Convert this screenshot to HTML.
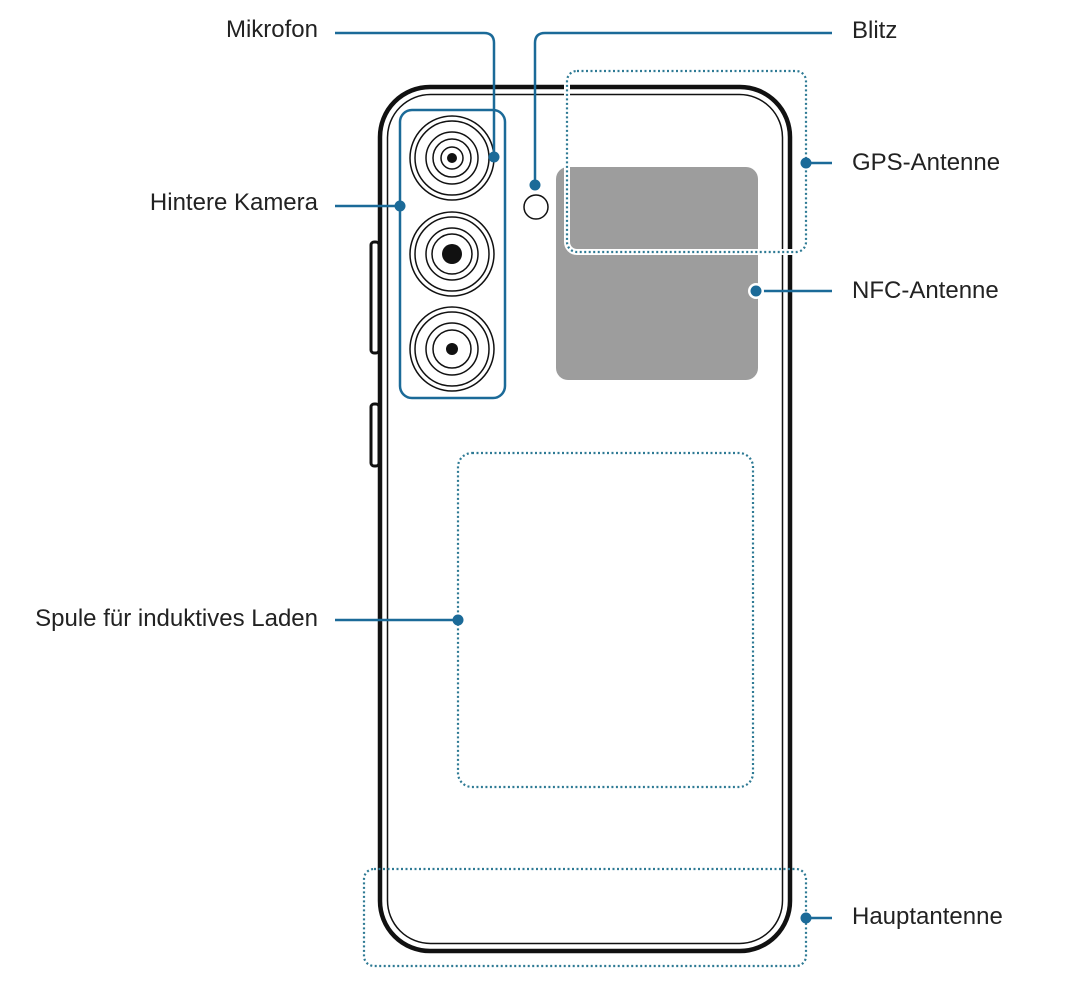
<!DOCTYPE html>
<html><head><meta charset="utf-8"><style>
body{margin:0;background:#fff;}
svg{display:block}
text{font-family:"Liberation Sans",sans-serif;font-size:24px;fill:#222;}
</style></head><body>
<svg width="1072" height="999" viewBox="0 0 1072 999" xmlns="http://www.w3.org/2000/svg">
<!-- side buttons -->
<rect x="371" y="242" width="8" height="111" rx="3" fill="none" stroke="#111" stroke-width="3"/>
<rect x="371" y="404" width="8" height="62" rx="3" fill="none" stroke="#111" stroke-width="3"/>
<!-- phone body -->
<rect x="380" y="87" width="410" height="864" rx="50" fill="#fff" stroke="#111" stroke-width="4.5"/>
<rect x="387.5" y="94.5" width="395" height="849" rx="43" fill="none" stroke="#111" stroke-width="1.5"/>
<!-- gray NFC -->
<rect x="556" y="167" width="202" height="213" rx="12" fill="#9d9d9d"/>
<!-- GPS dotted -->
<rect x="567" y="71" width="239" height="181" rx="10" fill="none" stroke="#fff" stroke-width="6"/>
<rect x="567" y="71" width="239" height="181" rx="10" fill="none" stroke="#2e7a94" stroke-width="2.2" stroke-dasharray="2 2.5"/>
<!-- coil -->
<rect x="458" y="453" width="295" height="334" rx="14" fill="none" stroke="#2e7a94" stroke-width="2.2" stroke-dasharray="2 2.5"/>
<!-- main antenna -->
<rect x="364" y="869" width="442" height="97" rx="10" fill="none" stroke="#2e7a94" stroke-width="2.2" stroke-dasharray="2 2.5"/>
<!-- camera box -->
<rect x="400" y="110" width="105" height="288" rx="12" fill="#fff" stroke="#1b6a98" stroke-width="2.5"/>
<g fill="none" stroke="#111" stroke-width="1.5">
<circle cx="452" cy="158" r="42"/><circle cx="452" cy="158" r="37"/><circle cx="452" cy="158" r="26"/><circle cx="452" cy="158" r="19"/><circle cx="452" cy="158" r="11"/>
<circle cx="452" cy="254" r="42"/><circle cx="452" cy="254" r="37"/><circle cx="452" cy="254" r="26"/><circle cx="452" cy="254" r="20"/>
<circle cx="452" cy="349" r="42"/><circle cx="452" cy="349" r="37"/><circle cx="452" cy="349" r="26"/><circle cx="452" cy="349" r="19"/>
<circle cx="536" cy="207" r="12"/>
</g>
<circle cx="452" cy="158" r="5" fill="#111"/>
<circle cx="452" cy="254" r="10" fill="#111"/>
<circle cx="452" cy="349" r="6" fill="#111"/>
<!-- leader lines -->
<g fill="none" stroke="#1b6a98" stroke-width="2.5">
<path d="M335 33 H484 Q494 33 494 43 V157"/>
<path d="M535 185 V43 Q535 33 545 33 H832"/>
<path d="M335 206 H400"/>
<path d="M335 620 H458"/>
<path d="M806 163 H832"/>
<path d="M756 291 H832"/>
<path d="M806 918 H832"/>
</g>
<circle cx="756" cy="291" r="8" fill="#fff"/>
<g fill="#1b6a98">
<circle cx="494" cy="157" r="5.5"/>
<circle cx="535" cy="185" r="5.5"/>
<circle cx="400" cy="206" r="5.5"/>
<circle cx="458" cy="620" r="5.5"/>
<circle cx="806" cy="163" r="5.5"/>
<circle cx="756" cy="291" r="5.5"/>
<circle cx="806" cy="918" r="5.5"/>
</g>
<text x="318" y="37" text-anchor="end">Mikrofon</text>
<text x="318" y="210" text-anchor="end">Hintere Kamera</text>
<text x="318" y="626" text-anchor="end">Spule für induktives Laden</text>
<text x="852" y="38">Blitz</text>
<text x="852" y="170">GPS-Antenne</text>
<text x="852" y="298">NFC-Antenne</text>
<text x="852" y="924">Hauptantenne</text>
</svg>
</body></html>
